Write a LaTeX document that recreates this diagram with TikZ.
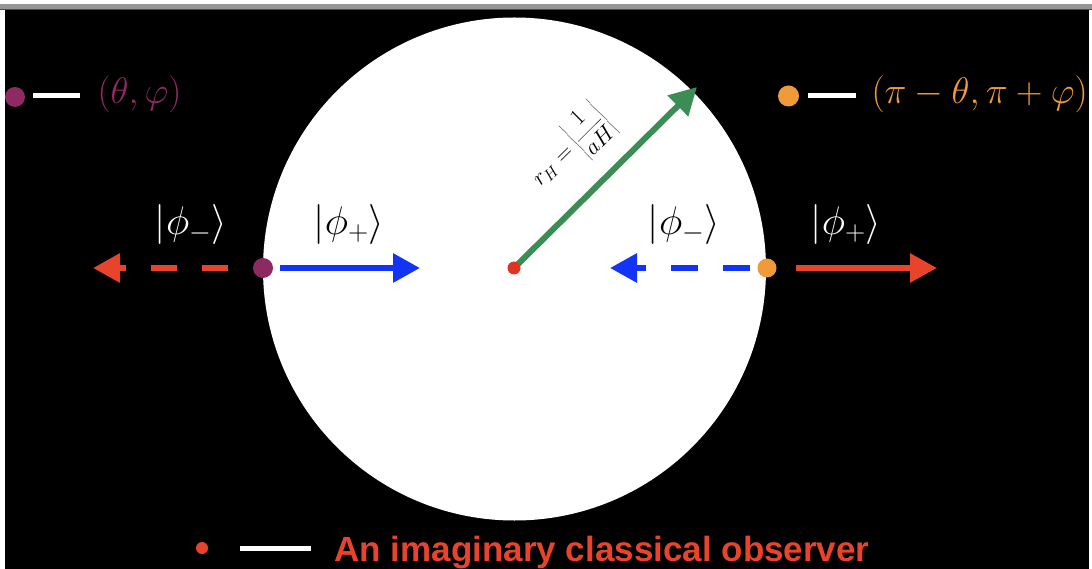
\RequirePackage{fix-cm}
\documentclass[tikz,border=0pt]{standalone}
\usepackage{fontspec}
\newfontfamily\obsfont{Liberation Sans}
\usetikzlibrary{arrows.meta}
\definecolor{purp}{HTML}{8E2A62}
\definecolor{orng}{HTML}{F09A3A}
\definecolor{redd}{HTML}{E8432B}
\definecolor{blu}{HTML}{1434F5}
\definecolor{grn}{HTML}{3C8D55}
\definecolor{cdot}{HTML}{DD3522}
\definecolor{topgray}{HTML}{959595}
\definecolor{topdark}{HTML}{4A4A4A}
\tikzset{
  dot/.style={circle, inner sep=0pt, draw=none},
  arr/.style={line width=6pt, -{Triangle[length=27pt,width=28pt]}},
  dsh/.style={dash pattern=on 26pt off 25pt},
  ket/.style={anchor=base, font=\fontsize{40}{44}\selectfont},
  leg/.style={anchor=base west, font=\fontsize{37}{42}\selectfont},
  legline/.style={white, line width=5pt}
}
\begin{document}
\begin{tikzpicture}[x=1pt,y=-1pt]
\useasboundingbox (0,0) rectangle (1092,569);
\fill[white] (0,0) rectangle (1092,569);
\fill[topgray] (0,4) rectangle (1092,9);
\fill[topdark] (0,9) rectangle (1092,10.5);
\fill[black] (5,10.5) rectangle (1089,569);
% horizon
\node[circle, fill=white, minimum size=503pt, inner sep=0pt] (hor) at (514.5,269) {};
% legends
\begin{scope}
\clip (5,10.5) rectangle (1089,569);
\node[dot, fill=purp, minimum size=20pt] (lp) at (15,97) {};
\end{scope}
\coordinate (lp1) at (33,95.5);
\coordinate (lp2) at (80,95.5);
\draw[legline] (lp1) -- (lp2);
\node[leg, text=purp] (tp) at (94,104) {$(\theta,\varphi)$};
\node[dot, fill=orng, minimum size=21pt] (lo) at (788.5,96) {};
\coordinate (lo1) at (808,95.5);
\coordinate (lo2) at (856,95.5);
\draw[legline] (lo1) -- (lo2);
\node[leg, text=orng] (to) at (868,104) {$(\pi-\theta,\pi+\varphi)$};
% green radius
\coordinate (c0) at (514,268);
\coordinate (tg) at (697,87);
\draw[arr, grn] (c0) -- (tg);
\node[dot, fill=cdot, minimum size=13pt] (cd) at (c0) {};
\node[rotate=44.7, font=\fontsize{23}{26}\selectfont] (rh) at (570,149) {$r_H=\left|\displaystyle\frac{1}{aH}\right|$};
% left point
\node[dot, fill=purp, minimum size=20pt] (pL) at (263,268) {};
\coordinate (tL) at (93,268);
\coordinate (tLb) at (420,268);
\draw[arr, redd, dsh, dash phase=26pt] (pL.west) -- (tL);
\draw[arr, blu] ([xshift=7pt]pL.east) -- (tLb);
\node[ket, text=white] (kL1) at (191,235) {$|\phi_-\rangle$};
\node[ket, text=black] (kL2) at (349,235) {$|\phi_+\rangle$};
% right point
\node[dot, fill=orng, minimum size=19pt] (pR) at (767,268) {};
\coordinate (tR) at (610,268);
\coordinate (tRr) at (937,268);
\draw[arr, blu, dash pattern=on 27pt off 25pt, dash phase=45pt] (pR.west) -- (tR);
\draw[arr, redd] ([xshift=19pt]pR.east) -- (tRr);
\node[ket, text=black] (kR1) at (684,235) {$|\phi_-\rangle$};
\node[ket, text=white] (kR2) at (846,235) {$|\phi_+\rangle$};
% observer legend
\node[dot, fill=redd, minimum size=12pt] (od) at (202,548) {};
\coordinate (ol1) at (240,548);
\coordinate (ol2) at (311,548);
\draw[legline] (ol1) -- (ol2);
\node[anchor=base west, text=redd, font=\obsfont\bfseries\fontsize{35}{40}\selectfont] (ot) at (331,561) {An imaginary classical observer};
\end{tikzpicture}
\end{document}
